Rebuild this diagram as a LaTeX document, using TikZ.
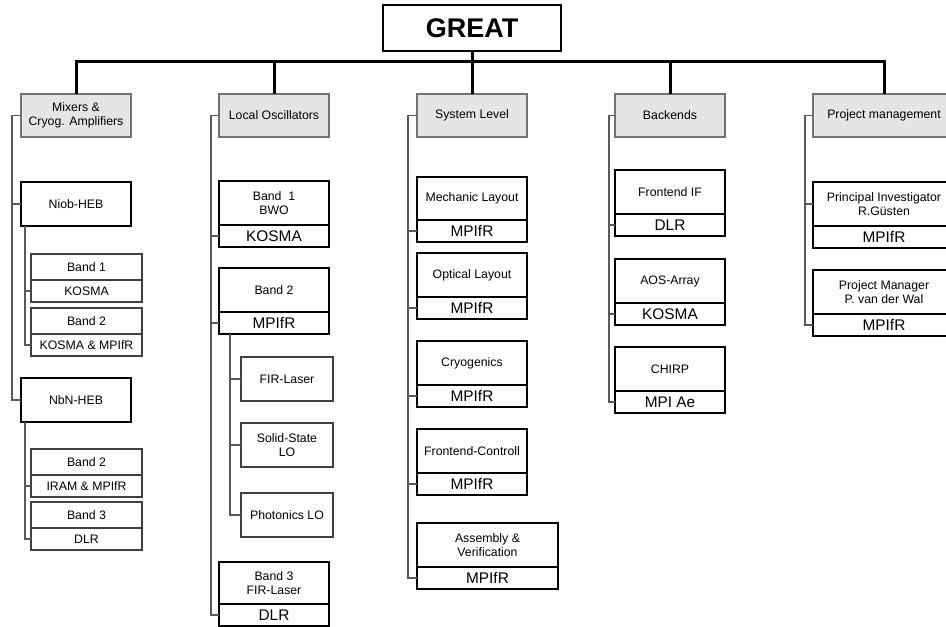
\documentclass[tikz,border=0pt]{standalone}
\usepackage{fontspec}
\setmainfont{Liberation Sans}
\usetikzlibrary{positioning}

\begin{document}
\begin{tikzpicture}[x=1pt, y=-1pt, node distance=22pt,
  every node/.style={inner sep=0pt, outer sep=0pt, align=center},
  top/.style={draw, line width=2.7pt, minimum width=178pt, minimum height=46pt, font=\bfseries\fontsize{27}{30}\selectfont},
  group/.style={draw=black!55, fill=black!10, line width=1.3pt, minimum width=110pt, minimum height=43pt, font=\fontsize{12.3}{14.5}\selectfont},
  item/.style={draw, line width=2pt, minimum width=110pt, minimum height=44pt, font=\fontsize{12.3}{14.5}\selectfont},
  inst/.style={draw, line width=2pt, minimum width=110pt, minimum height=22pt, font=\fontsize{15.4}{18}\selectfont},
  part/.style={draw=black!75, line width=1.3pt, minimum width=111pt, minimum height=26pt, font=\fontsize{12.3}{14.5}\selectfont},
  src/.style={part, minimum width=92pt, minimum height=44pt},
  link/.style={draw=black!65, line width=1.3pt},
  bus/.style={line width=3pt}]
  \useasboundingbox (0,0) rectangle (946,627);
  \clip (0,0) rectangle (946,627);

  % groups
  \node[group] (mix) at (76,115.5) {Mixers \&\\Cryog. Amplifiers};
  \node[group, right=88pt of mix]  (lo)   {Local Oscillators};
  \node[group, right=88pt of lo]   (sys)  {System Level};
  \node[group, right=88pt of sys]  (back) {Backends};
  \node[group, minimum width=142pt, right=88pt of back] (proj) {Project management};
  \node[top, above=43pt of sys]    (great) {GREAT};

  % mixers
  \node[item, below=45pt of mix] (niob) {Niob-HEB};
  \node[part, below=28pt of niob, xshift=10.5pt] (b1n) {Band 1};
  \node[part, minimum height=22pt, below=0pt of b1n] (kos1) {KOSMA};
  \node[part, below=6pt of kos1] (b2n) {Band 2};
  \node[part, minimum height=22pt, below=0pt of b2n] (kmp) {KOSMA \& MPIfR};
  \node[item, below=22pt of kmp, xshift=-10.5pt] (nbn) {NbN-HEB};
  \node[part, below=27pt of nbn, xshift=10.5pt] (b2b) {Band 2};
  \node[part, minimum height=22pt, below=0pt of b2b] (iram) {IRAM \& MPIfR};
  \node[part, below=5pt of iram] (b3b) {Band 3};
  \node[part, minimum height=22pt, below=0pt of b3b] (dlr1) {DLR};

  % local oscillators
  \node[item, below=44pt of lo] (bwo) {Band~~1\\BWO};
  \node[inst, below=0pt of bwo] (kos2) {KOSMA};
  \node[item, below=21pt of kos2] (b2l) {Band 2};
  \node[inst, below=0pt of b2l] (mp2) {MPIfR};
  \node[src, below=23pt of mp2, xshift=13pt] (fir) {FIR-Laser};
  \node[src, below=22pt of fir] (solid) {Solid-State\\LO};
  \node[src, below=26pt of solid] (phot) {Photonics LO};
  \node[item, minimum height=42pt, below=25pt of phot, xshift=-13pt] (b3l) {Band 3\\FIR-Laser};
  \node[inst, below=0pt of b3l] (dlr2) {DLR};

  % system level
  \node[item, minimum height=43pt, below=40pt of sys] (mech) {Mechanic Layout};
  \node[inst, below=0pt of mech] (mp3) {MPIfR};
  \node[item, below=11pt of mp3] (opt) {Optical Layout};
  \node[inst, below=0pt of opt] (mp4) {MPIfR};
  \node[item, below=22pt of mp4] (cryo) {Cryogenics};
  \node[inst, below=0pt of cryo] (mp5) {MPIfR};
  \node[item, below=22pt of mp5] (fec) {Frontend-Controll};
  \node[inst, below=0pt of fec] (mp6) {MPIfR};
  \node[item, minimum width=141pt, below=28pt of mp6, xshift=15.5pt] (asm) {Assembly \&\\Verification};
  \node[inst, minimum width=141pt, below=0pt of asm] (mp7) {MPIfR};

  % backends
  \node[item, below=33pt of back] (feif) {Frontend IF};
  \node[inst, below=0pt of feif] (dlr3) {DLR};
  \node[item, below=23pt of dlr3] (aos) {AOS-Array};
  \node[inst, below=0pt of aos] (kos3) {KOSMA};
  \node[item, below=22pt of kos3] (chirp) {CHIRP};
  \node[inst, below=0pt of chirp] (mpiae) {MPI Ae};

  % project management
  \node[item, minimum width=142pt, below=45pt of proj] (pi) {Principal Investigator\\R.Güsten};
  \node[inst, minimum width=142pt, below=0pt of pi] (mp8) {MPIfR};
  \node[item, minimum width=142pt, below=22pt of mp8] (pm) {Project Manager\\P. van der Wal};
  \node[inst, minimum width=142pt, below=0pt of pm] (mp9) {MPIfR};

  % top bus
  \coordinate[below=10pt of great] (bus);
  \draw[bus] (great.south) -- (bus);
  \draw[bus] (mix.north) |- (bus) -| (proj.north);
  \foreach \g in {lo, sys, back}
    \draw[bus] (\g.north) -- (\g.north |- bus);

  % tree lines
  \draw[link] (mix.west) -- ++(-9,0) coordinate (sp1) |- (nbn.west);
  \draw[link] (sp1 |- niob.west) -- (niob.west);
  \draw[link] ([xshift=4pt]niob.south west) coordinate (sb1) |- (kmp.west);
  \draw[link] (sb1 |- kos1.west) -- (kos1.west);
  \draw[link] ([xshift=4pt]nbn.south west) coordinate (sb2) |- (dlr1.west);
  \draw[link] (sb2 |- iram.west) -- (iram.west);

  \draw[link] (lo.west) -- ++(-8,0) coordinate (sp2) |- (dlr2.west);
  \foreach \n in {kos2, mp2}
    \draw[link] (sp2 |- \n.west) -- (\n.west);
  \draw[link] ([xshift=11pt]mp2.south west) coordinate (sb3) |- (phot.west);
  \foreach \n in {fir, solid}
    \draw[link] (sb3 |- \n.west) -- (\n.west);

  \draw[link] (sys.west) -- ++(-9,0) coordinate (sp3) |- (mp7.west);
  \foreach \n in {mp3, mp4, mp5, mp6}
    \draw[link] (sp3 |- \n.west) -- (\n.west);

  \draw[link] (back.west) -- ++(-6,0) coordinate (sp4) |- (mpiae.west);
  \foreach \n in {dlr3, kos3}
    \draw[link] (sp4 |- \n.west) -- (\n.west);

  \draw[link] (proj.west) -- ++(-8,0) coordinate (sp5) |- (mp9.west);
  \draw[link] (sp5 |- pi.west) -- (pi.west);
\end{tikzpicture}
\end{document}
